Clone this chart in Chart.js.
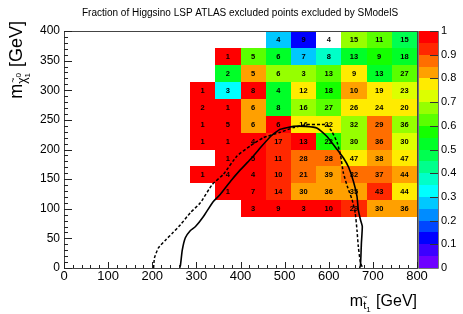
<!DOCTYPE html>
<html>
<head>
<meta charset="utf-8">
<script src="https://cdn.jsdelivr.net/npm/chart.js@4.4.1/dist/chart.umd.min.js"></script>
<style>
  html, body { margin: 0; padding: 0; background: #fff; }
  #wrap { width: 463px; height: 314px; }
</style>
</head>
<body>
<div id="wrap"><canvas id="c" width="463" height="314"></canvas></div>
<script>
// histogram binning (14 x 14 bins over the plot range)
const nBinsX = 14, nBinsY = 14;
const xRange = [0, 800];
const yRange = [0, 400];

// rows of filled cells, top to bottom: y bin index, first x bin index
const rowBins = [13, 12, 11, 10, 9, 8, 7, 6, 5, 4, 3];
const rowFirstCol = [8, 6, 6, 5, 5, 5, 5, 6, 5, 6, 7];

// number of points in each cell (printed text)
const cellCounts = [
  [4, 9, 4, 15, 11, 15],
  [1, 5, 6, 7, 8, 13, 9, 18],
  [2, 5, 6, 3, 13, 9, 13, 27],
  [1, 3, 8, 4, 12, 18, 10, 19, 23],
  [2, 1, 6, 8, 16, 27, 26, 24, 20],
  [1, 5, 6, 6, 16, 22, 32, 29, 36],
  [1, 1, 4, 17, 13, 22, 30, 36, 30],
  [1, 5, 11, 28, 28, 47, 38, 47],
  [1, 4, 4, 10, 21, 39, 32, 37, 44],
  [1, 7, 14, 30, 36, 35, 43, 44],
  [3, 9, 3, 10, 29, 30, 36]
];

// fraction excluded by SModelS (colour)
const cellFractions = [
  [0.25, 0.11, 0, 0.67, 0.64, 0.47],
  [1, 0.6, 0.5, 0.29, 0.38, 0.54, 0.56, 0.5],
  [0.5, 0.8, 0.67, 0.67, 0.62, 0.78, 0.54, 0.63],
  [1, 0.33, 1, 0.5, 0.75, 0.56, 0.8, 0.79, 0.7],
  [1, 1, 0.83, 0.5, 0.69, 0.63, 0.77, 0.79, 0.75],
  [1, 1, 0.83, 1, 0.75, 0.77, 0.69, 0.86, 0.69],
  [1, 1, 1, 0.94, 1, 0.55, 0.67, 0.86, 0.73],
  [1, 1, 0.91, 0.86, 0.86, 0.79, 0.82, 0.79],
  [1, 1, 1, 0.9, 0.86, 0.82, 0.88, 0.86, 0.84],
  [1, 1, 0.93, 0.83, 0.83, 0.83, 0.93, 0.77],
  [1, 1, 1, 1, 0.93, 0.83, 0.83]
];

// ATLAS exclusion contours
const solidX = [262, 264, 268, 275, 286, 298, 316, 338, 354, 377, 400, 422, 445, 468, 490, 520, 547, 574, 596, 619, 633, 645, 656, 664, 667, 672, 676, 674, 672, 670];
const solidY = [0, 5, 30, 51, 63, 70, 87, 112, 124, 146, 166, 183, 203, 222, 234, 239, 239, 236, 222, 200, 186, 170, 146, 121, 98, 81, 70, 42, 5, 0];
const dashedX = [203, 205, 214, 230, 246, 264, 286, 309, 336, 361, 392, 422, 452, 490, 520, 551, 581, 596, 608, 619, 627, 633, 642, 653, 660, 664, 667, 672, 676];
const dashedY = [0, 17, 34, 47, 59, 73, 93, 110, 141, 158, 189, 206, 220, 229, 237, 242, 242, 242, 229, 212, 189, 161, 138, 115, 93, 64, 36, 8, 2];

const zTicks = [0, 0.1, 0.2, 0.3, 0.4, 0.5, 0.6, 0.7, 0.8, 0.9, 1];

// ROOT-like 20 level palette, low to high
const palette = [
  '#6e00ff', '#3c00ff', '#0000ff', '#0046ff', '#008cff',
  '#00c8ff', '#00ffff', '#00ffc8', '#00ff8c', '#00ff50',
  '#00ff28', '#14ff00', '#5aff00', '#96ff00', '#dcff00',
  '#ffeb00', '#ffa000', '#ff6e00', '#ff2800', '#ff0000'
];
const colorFor = f => palette[Math.min(palette.length - 1, Math.floor(f * palette.length))];

const FONT = '"Liberation Sans", Arial, Helvetica, sans-serif';
const binW = (xRange[1] - xRange[0]) / nBinsX;
const binH = (yRange[1] - yRange[0]) / nBinsY;

const heatPlugin = {
  id: 'heat',
  beforeDatasetsDraw(chart) {
    const { ctx, scales: { x, y, z } } = chart;
    ctx.save();
    rowBins.forEach((rb, r) => {
      cellCounts[r].forEach((n, k) => {
        const c = rowFirstCol[r] + k;
        const x0 = Math.round(x.getPixelForValue(c * binW));
        const x1 = Math.round(x.getPixelForValue((c + 1) * binW));
        const y0 = Math.round(y.getPixelForValue((rb + 1) * binH));
        const y1 = Math.round(y.getPixelForValue(rb * binH));
        const f = cellFractions[r][k];
        if (f > 0) {
          ctx.fillStyle = colorFor(f);
          ctx.fillRect(x0, y0, x1 - x0, y1 - y0);
        }
      });
    });
    ctx.fillStyle = '#000';
    ctx.font = 'bold 7.5px ' + FONT;
    ctx.textAlign = 'center';
    ctx.textBaseline = 'middle';
    rowBins.forEach((rb, r) => {
      cellCounts[r].forEach((n, k) => {
        const c = rowFirstCol[r] + k;
        const cx = x.getPixelForValue((c + 0.5) * binW);
        const cy = y.getPixelForValue((rb + 0.5) * binH);
        ctx.fillText(String(n), cx, cy + 0.5);
      });
    });

    // colour bar
    const bl = z.left + 2, br = z.left + 21;
    palette.forEach((col, i) => {
      const t = Math.round(z.getPixelForValue((i + 1) / palette.length));
      const b = Math.round(z.getPixelForValue(i / palette.length));
      ctx.fillStyle = col;
      ctx.fillRect(bl, t, br - bl, b - t);
    });
    ctx.strokeStyle = '#333';
    ctx.lineWidth = 1;
    zTicks.forEach(v => {
      const py = Math.round(z.getPixelForValue(v)) + 0.5;
      ctx.beginPath();
      ctx.moveTo(br - 8, py);
      ctx.lineTo(br, py);
      ctx.stroke();
    });
    ctx.strokeStyle = '#777';
    ctx.beginPath();
    ctx.moveTo(bl - 0.5, z.top);
    ctx.lineTo(bl - 0.5, z.bottom + 0.5);
    ctx.lineTo(br + 0.5, z.bottom + 0.5);
    ctx.lineTo(br + 0.5, z.top);
    ctx.stroke();
    ctx.restore();
  },
  afterDraw(chart) {
    const { ctx, chartArea: a, scales: { x, y } } = chart;
    ctx.save();
    // frame
    ctx.strokeStyle = '#444';
    ctx.lineWidth = 1;
    ctx.strokeRect(Math.round(a.left) + 0.5, Math.round(a.top) + 0.5,
      Math.round(a.right - a.left), Math.round(a.bottom - a.top));
    // inward ticks
    ctx.strokeStyle = '#222';
    ctx.beginPath();
    for (let v = xRange[0]; v <= xRange[1]; v += 20) {
      const px = Math.round(x.getPixelForValue(v)) + 0.5;
      const len = v % 100 === 0 ? 6 : 3;
      ctx.moveTo(px, a.bottom);
      ctx.lineTo(px, a.bottom - len);
    }
    for (let v = yRange[0]; v <= yRange[1]; v += 10) {
      const py = Math.round(y.getPixelForValue(v)) + 0.5;
      const len = v % 50 === 0 ? 8 : 4;
      ctx.moveTo(a.left, py);
      ctx.lineTo(a.left + len, py);
    }
    ctx.stroke();

    ctx.fillStyle = '#000';
    ctx.textBaseline = 'alphabetic';
    // title
    ctx.font = '10px ' + FONT;
    ctx.textAlign = 'center';
    ctx.fillText('Fraction of Higgsino LSP ATLAS excluded points excluded by SModelS', 240, 16);

    // x axis title: m_{t~1} [GeV], right aligned at axis end
    ctx.textAlign = 'left';
    const big = '16px ' + FONT, sub = '11px ' + FONT, sub2 = '8px ' + FONT;
    ctx.font = big;
    const wm = ctx.measureText('m').width;
    const wg = ctx.measureText(' [GeV]').width;
    ctx.font = sub;
    const wt = ctx.measureText('t').width;
    ctx.font = sub2;
    const w1 = ctx.measureText('1').width;
    let bx = a.right - (wm + wt + w1 + wg + 1);
    const by = 306;
    ctx.font = big; ctx.fillText('m', bx, by); bx += wm;
    ctx.font = sub; ctx.fillText('t', bx, by + 3);
    ctx.font = '9px ' + FONT; ctx.fillText('~', bx - 1, by - 6);
    bx += wt;
    ctx.font = sub2; ctx.fillText('1', bx, by + 6); bx += w1 + 1;
    ctx.font = big; ctx.fillText(' [GeV]', bx, by);

    // y axis title: m_{chi~1^0} [GeV], rotated, right aligned at axis top
    ctx.save();
    ctx.translate(22, 0);
    ctx.rotate(-Math.PI / 2);
    const ybig = '18px ' + FONT, ysub = '12px ' + FONT, ysub2 = '8px ' + FONT;
    ctx.font = ybig;
    const ym = ctx.measureText('m').width, yg = ctx.measureText(' [GeV]').width;
    ctx.font = ysub;
    const yc = ctx.measureText('\u03c7').width;
    ctx.font = ysub2;
    const y0w = ctx.measureText('0').width;
    const total = ym + yc + y0w + 1 + yg;
    let tx = -(21 + total);
    ctx.font = ybig; ctx.fillText('m', tx, 0); tx += ym;
    ctx.font = ysub; ctx.fillText('\u03c7', tx, 4);
    ctx.font = '9px ' + FONT; ctx.fillText('~', tx + 1, -6);
    tx += yc;
    ctx.font = ysub2; ctx.fillText('0', tx, -1); ctx.fillText('1', tx, 8); tx += y0w + 1;
    ctx.font = ybig; ctx.fillText(' [GeV]', tx, 0);
    ctx.restore();
    ctx.restore();
  }
};

const toPoints = (xs, ys) => xs.map((v, i) => ({ x: v, y: ys[i] }));

new Chart(document.getElementById('c'), {
  type: 'scatter',
  data: {
    datasets: [
      {
        label: 'ATLAS observed',
        data: toPoints(solidX, solidY),
        showLine: true,
        borderColor: '#000',
        borderWidth: 1.6,
        pointRadius: 0,
        tension: 0.15
      },
      {
        label: 'ATLAS expected',
        data: toPoints(dashedX, dashedY),
        showLine: true,
        borderColor: '#000',
        borderWidth: 1.5,
        borderDash: [3, 2],
        pointRadius: 0,
        tension: 0.15
      }
    ]
  },
  options: {
    responsive: false,
    animation: false,
    events: [],
    layout: { padding: { top: 31, left: 0, right: 0, bottom: 0 } },
    plugins: { legend: { display: false }, tooltip: { enabled: false }, title: { display: false } },
    scales: {
      x: {
        type: 'linear', min: xRange[0], max: xRange[1],
        grid: { display: false, drawTicks: false },
        border: { display: false },
        ticks: { stepSize: 100, autoSkip: false, maxRotation: 0, padding: 1, color: '#000', font: { family: FONT, size: 13 } },
        afterFit(s) { s.height = 46; }
      },
      y: {
        type: 'linear', min: yRange[0], max: yRange[1],
        grid: { display: false, drawTicks: false },
        border: { display: false },
        ticks: { stepSize: 50, autoSkip: false, padding: 4, color: '#000', font: { family: FONT, size: 12 } },
        afterFit(s) { s.width = 64; }
      },
      z: {
        type: 'linear', position: 'right', min: 0, max: 1,
        grid: { display: false, drawTicks: false },
        border: { display: false },
        ticks: {
          stepSize: 0.1, autoSkip: false, padding: 24, color: '#000', font: { family: FONT, size: 11 },
          callback: v => String(Math.round(v * 10) / 10)
        },
        afterFit(s) { s.width = 46; }
      }
    }
  },
  plugins: [heatPlugin]
});
</script>
</body>
</html>
